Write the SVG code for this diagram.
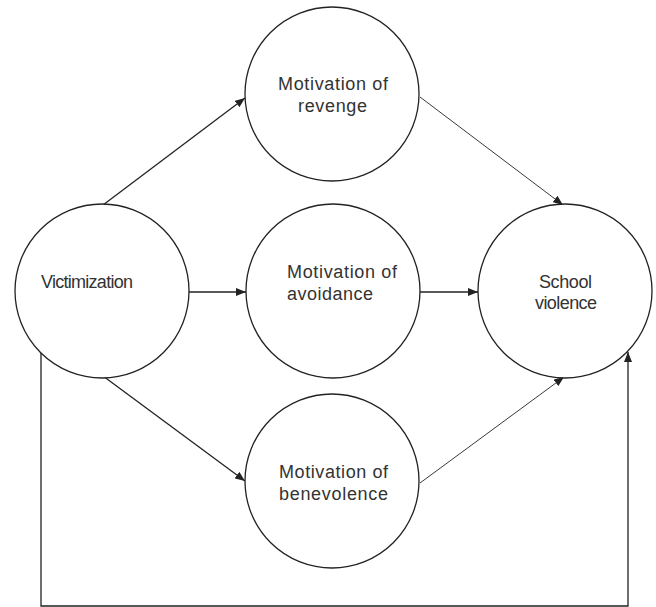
<svg xmlns="http://www.w3.org/2000/svg" width="656" height="607" viewBox="0 0 656 607">
<style>
.node circle{fill:#fff;stroke:#222;stroke-width:1.3}
.node text{font-family:"Liberation Sans",Arial,sans-serif;font-size:18px;fill:#333}
.conn line,.conn polyline{stroke:#222;stroke-width:1.3;fill:none}
.conn .thin{stroke-width:0.9}
</style>
<defs>
<marker id="ah" markerUnits="userSpaceOnUse" markerWidth="10" markerHeight="8" refX="10" refY="4" orient="auto">
<path d="M0,0 L10,4 L0,8 z" fill="#222"/>
</marker>
</defs>
<g class="conn">
<line x1="103" y1="205" x2="245" y2="98" marker-end="url(#ah)"/>
<line x1="189" y1="292" x2="246" y2="292" marker-end="url(#ah)"/>
<line x1="103" y1="376" x2="245" y2="481" marker-end="url(#ah)"/>
<line class="thin" x1="420" y1="97" x2="563" y2="205" marker-end="url(#ah)"/>
<line x1="420" y1="292" x2="478" y2="292" marker-end="url(#ah)"/>
<line class="thin" x1="420" y1="483" x2="564" y2="377" marker-end="url(#ah)"/>
<polyline points="41,353 41,606 628,606 628,352" marker-end="url(#ah)"/>
</g>
<g id="victimization" class="node">
<circle cx="102" cy="291" r="87"/>
<text x="41" y="288" textLength="92" lengthAdjust="spacing">Victimization</text>
</g>
<g id="revenge" class="node">
<circle cx="332" cy="94" r="87"/>
<text x="278" y="90" textLength="110" lengthAdjust="spacing">Motivation of</text>
<text x="298" y="112" textLength="69" lengthAdjust="spacing">revenge</text>
</g>
<g id="avoidance" class="node">
<circle cx="333" cy="291" r="87"/>
<text x="287" y="278" textLength="110" lengthAdjust="spacing">Motivation of</text>
<text x="287" y="300" textLength="86" lengthAdjust="spacing">avoidance</text>
</g>
<g id="benevolence" class="node">
<circle cx="332" cy="481" r="87"/>
<text x="279" y="478" textLength="109" lengthAdjust="spacing">Motivation of</text>
<text x="279" y="500" textLength="109" lengthAdjust="spacing">benevolence</text>
</g>
<g id="school-violence" class="node">
<circle cx="565" cy="291" r="87"/>
<text x="539" y="288" textLength="53" lengthAdjust="spacing">School</text>
<text x="535" y="309" textLength="62" lengthAdjust="spacing">violence</text>
</g>
</svg>
